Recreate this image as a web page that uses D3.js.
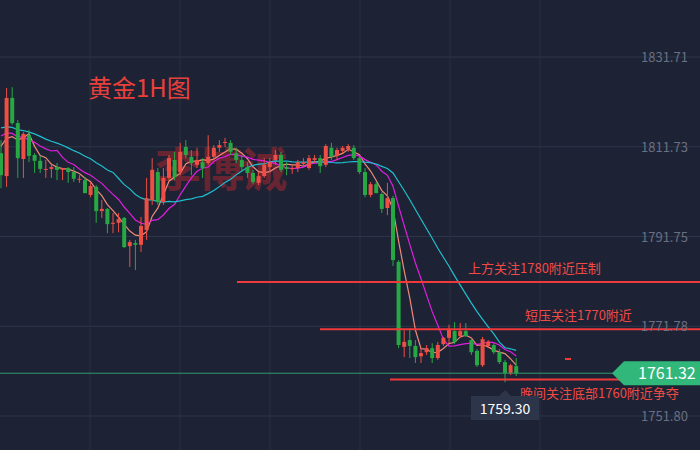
<!DOCTYPE html>
<html><head><meta charset="utf-8">
<script src="https://cdn.jsdelivr.net/npm/d3@7"></script>
<style>
body{margin:0;background:#1d2335;}
svg{display:block;font-family:"Noto Sans CJK SC","Noto Sans",sans-serif;}
</style></head>
<body><svg id="svg" width="700" height="450"></svg>
<script>
// OHLC (red = up, green = down)
const opens  = [1810.3,1805.2,1822.6,1817.0,1809.0,1814.3,1809.9,1808.6,1806.8,1806.8,1807.2,1806.6,1807.0,1806.1,1804.6,1804.3,1801.0,1802.8,1797.4,1797.9,1794.8,1794.8,1795.9,1789.6,1790.3,1789.9,1793.2,1799.9,1806.1,1799.4,1804.8,1808.8,1806.1,1811.7,1809.5,1807.7,1808.3,1808.1,1809.5,1811.5,1812.6,1812.6,1810.3,1808.8,1807.2,1805.9,1803.7,1805.2,1807.2,1808.8,1809.9,1807.2,1807.0,1807.0,1807.9,1807.0,1808.8,1809.2,1807.7,1811.5,1809.7,1810.8,1811.2,1811.5,1809.2,1806.1,1801.0,1803.4,1801.2,1798.1,1800.3,1786.1,1767.2,1768.7,1767.4,1765.1,1766.0,1766.9,1764.7,1767.8,1769.2,1770.7,1769.6,1770.7,1768.7,1766.3,1763.1,1767.4,1767.6,1766.0,1763.8,1761.4,1762.9];
const highs  = [1813.2,1824.8,1825.0,1817.7,1815.0,1815.5,1810.3,1809.7,1808.8,1808.1,1808.1,1807.0,1807.2,1807.2,1805.4,1805.0,1803.9,1803.2,1799.9,1798.1,1797.0,1797.0,1796.1,1791.0,1791.0,1796.1,1804.8,1809.2,1807.0,1807.0,1809.9,1810.6,1812.6,1813.2,1811.0,1811.5,1809.2,1814.3,1812.1,1813.2,1813.7,1813.2,1811.5,1809.9,1808.3,1806.6,1806.1,1809.2,1809.2,1811.0,1810.6,1808.3,1807.7,1808.8,1809.2,1809.9,1809.9,1809.9,1812.3,1812.6,1811.5,1811.9,1812.3,1812.1,1809.7,1807.0,1803.9,1803.9,1801.6,1803.7,1800.8,1786.5,1770.9,1771.2,1768.7,1766.9,1767.6,1768.0,1768.3,1769.4,1772.1,1772.7,1772.5,1772.5,1769.2,1766.7,1769.4,1768.7,1768.0,1766.7,1764.3,1763.4,1764.7];
const lows   = [1802.5,1802.8,1816.6,1804.8,1804.8,1808.3,1805.9,1805.9,1804.8,1804.8,1804.3,1804.3,1803.7,1803.9,1803.7,1801.4,1800.5,1794.8,1795.9,1792.5,1792.5,1792.7,1789.2,1785.0,1784.3,1788.3,1791.0,1798.8,1798.8,1798.8,1804.3,1804.3,1805.4,1809.2,1805.4,1807.0,1804.8,1807.7,1808.8,1810.6,1811.7,1809.9,1808.1,1806.1,1804.8,1803.4,1803.2,1804.8,1806.1,1807.7,1806.1,1805.4,1805.7,1806.1,1807.4,1806.6,1808.1,1805.9,1807.2,1808.8,1808.8,1810.3,1810.6,1808.8,1805.7,1800.5,1800.5,1801.4,1797.0,1796.5,1785.2,1766.9,1764.9,1764.7,1763.6,1763.6,1765.4,1763.6,1764.3,1767.4,1768.0,1767.8,1769.2,1769.4,1765.4,1762.7,1762.7,1766.9,1765.6,1763.4,1759.3,1760.9,1760.7];
const closes = [1805.4,1822.6,1817.0,1809.2,1814.6,1809.7,1808.6,1806.8,1806.8,1807.2,1806.6,1807.0,1806.1,1804.6,1804.6,1801.4,1803.0,1797.4,1797.9,1794.5,1794.8,1795.6,1789.4,1790.5,1789.9,1794.1,1800.3,1806.6,1799.4,1804.8,1809.2,1805.0,1810.6,1809.9,1808.1,1808.8,1807.0,1809.5,1811.5,1812.1,1812.8,1810.6,1808.8,1807.2,1805.9,1803.9,1805.2,1807.7,1808.3,1809.9,1806.6,1806.8,1807.0,1808.3,1808.3,1809.2,1809.2,1807.4,1811.9,1809.5,1811.0,1811.5,1811.9,1809.2,1806.1,1801.0,1803.4,1801.4,1797.9,1800.3,1786.5,1767.6,1768.3,1767.4,1764.9,1765.8,1766.9,1764.7,1767.6,1769.2,1771.2,1768.3,1770.7,1769.6,1766.0,1763.1,1768.9,1768.3,1766.0,1763.8,1761.4,1763.1,1761.3];
// closes before the visible window, estimated, only to seed the averages
const priorCloses = [1818,1819,1820,1818,1817,1816,1818,1819,1817,1815,1816,1818,1817,1815,1816,1814,1815,1813,1812];
const yTicks = [1831.71,1811.73,1791.75,1771.78,1751.80];
const lastPrice = 1761.32, lowPrice = 1759.30;
const levels = [
  {price:1781.6, x0:237, label:"上方关注1780附近压制", lx:468},
  {price:1771.1, x0:320, label:"短压关注1770附近", lx:525},
  {price:1759.9, x0:390, label:"晚间关注底部1760附近争夺", lx:520, below:true}
];
const maDefs = [{n:5,color:"#ef8a78"},{n:10,color:"#e01ee0"},{n:20,color:"#1fbfcf"}];

const svg = d3.select("#svg");
const x = d3.scaleLinear().domain([0, closes.length-1]).range([1, 516.2]);
const y = d3.scaleLinear().domain([1751.80, 1831.71]).range([416, 57]);

// grid
svg.append("g").selectAll("line").data(yTicks).join("line")
  .attr("x1",0).attr("x2",700).attr("y1",d=>y(d)).attr("y2",d=>y(d))
  .attr("stroke","#2f3649").attr("stroke-width",1);
svg.append("g").selectAll("line").data([90,180,270,360,450,540]).join("line")
  .attr("x1",d=>d).attr("x2",d=>d).attr("y1",0).attr("y2",450)
  .attr("stroke","#2a3143").attr("stroke-width",1);

svg.append("text").attr("x",88).attr("y",97).attr("fill","#e8403a")
  .attr("font-size",24).text("黄金1H图");

// watermark
svg.append("text").attr("x",155).attr("y",186).attr("fill","#c4262a").attr("opacity",0.45)
  .attr("font-size",46).attr("font-weight","bold").attr("letter-spacing",-3).text("李博诚");

// moving averages
const all = priorCloses.concat(closes);
maDefs.forEach(m => {
  const pts = closes.map((c,i) => {
    const j = i + priorCloses.length;
    const w = all.slice(Math.max(0, j-m.n+1), j+1);
    return [i, d3.mean(w)];
  });
  svg.append("path").datum(pts).attr("fill","none").attr("stroke",m.color).attr("stroke-width",1.2)
    .attr("d", d3.line().x(d=>x(d[0])).y(d=>y(d[1])));
});

// candles
const idx = d3.range(closes.length);
const col = i => closes[i] >= opens[i] ? "#ee4f45" : "#27a844";
const cg = svg.append("g");
cg.selectAll("line").data(idx).join("line")
  .attr("x1",i=>x(i)).attr("x2",i=>x(i)).attr("y1",i=>y(highs[i])).attr("y2",i=>y(lows[i]))
  .attr("stroke",col).attr("stroke-width",1);
cg.selectAll("rect").data(idx).join("rect")
  .attr("x",i=>x(i)-2).attr("width",4)
  .attr("y",i=>y(Math.max(opens[i],closes[i])))
  .attr("height",i=>Math.max(1, Math.abs(y(opens[i])-y(closes[i]))))
  .attr("fill",col);

// last price line
svg.append("line").attr("x1",0).attr("x2",700).attr("y1",y(lastPrice)).attr("y2",y(lastPrice))
  .attr("stroke","#2f9a68").attr("stroke-width",1);

// level lines
levels.forEach(l => {
  svg.append("line").attr("x1",l.x0).attr("x2",700).attr("y1",y(l.price)).attr("y2",y(l.price))
    .attr("stroke","#f03a3a").attr("stroke-width",2);
  svg.append("text").attr("x",l.lx).attr("y",y(l.price)+(l.below?18:-9))
    .attr("fill","#f04a44").attr("font-size",13).text(l.label);
});
svg.append("line").attr("x1",565).attr("x2",571).attr("y1",359).attr("y2",359).attr("stroke","#f03a3a").attr("stroke-width",2);

// y labels
svg.append("g").selectAll("text").data(yTicks).join("text")
  .attr("x",641).attr("y",d=>y(d)+5).attr("fill","#687083").attr("font-size",13)
  .text(d=>d.toFixed(2));

// last price tag
const ly = y(lastPrice);
svg.append("path").attr("d",`M612,${ly} L624,${ly-12} L700,${ly-12} L700,${ly+12} L624,${ly+12} Z`).attr("fill","#32b77a");
svg.append("text").attr("x",638).attr("y",ly+6).attr("fill","#fff").attr("font-size",16).text(lastPrice.toFixed(2));

// low tooltip
const lx = x(90);
svg.append("path").attr("d",`M${lx-34},396 L${lx-6},396 L${lx},390 L${lx+6},396 L${lx+34},396 L${lx+34},420 L${lx-34},420 Z`).attr("fill","#2c3549");
svg.append("text").attr("x",lx).attr("y",414).attr("text-anchor","middle").attr("fill","#fff").attr("font-size",14).text(lowPrice.toFixed(2));
</script></body></html>
